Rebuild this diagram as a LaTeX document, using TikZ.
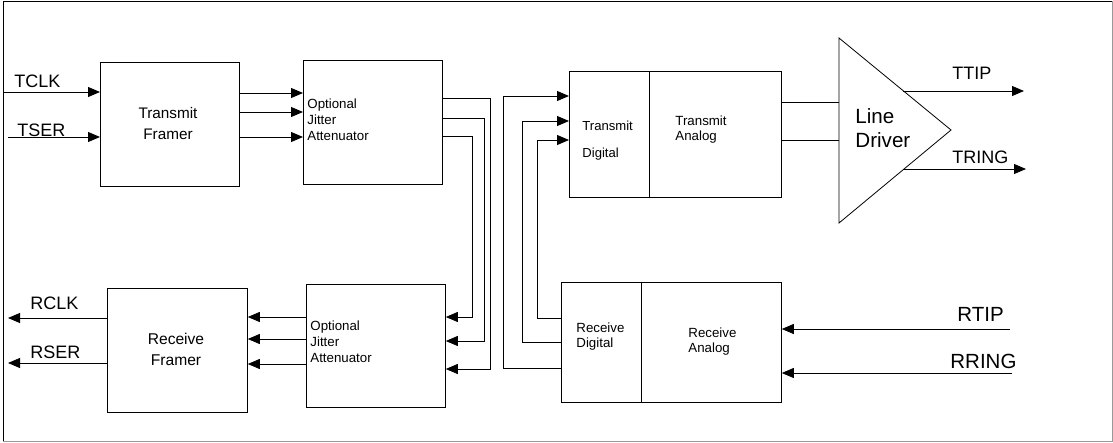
\documentclass[tikz,border=0pt]{standalone}
\usepackage{fontspec}
\setmainfont{Liberation Sans}
\usetikzlibrary{arrows.meta}

\tikzset{
  blk/.style={draw, rectangle, inner sep=0pt, anchor=north west},
  sig/.style={-{Triangle[length=12pt,width=10pt]}},
  pin/.style={inner sep=0pt, anchor=base west, font=\fontsize{18}{18}\selectfont},
  bigpin/.style={pin, font=\fontsize{20.5}{20.5}\selectfont},
  txt/.style={inner sep=0pt, anchor=base west, align=left, font=\fontsize{13.3}{16}\selectfont}
}

\begin{document}
\begin{tikzpicture}[x=1pt, y=-1pt, line width=0.8pt]
    \useasboundingbox (0,0) rectangle (1113,442);
    % Frame
    \draw (3,1) -- (1112,1);
    \draw (3,1) -- (3,441);
    \draw[black!40] (3,441) -- (1112,441) -- (1112,1);
    % Framers (text placed by its last baseline)
    \node[blk, minimum width=139pt, minimum height=124pt] (tfr) at (100,62) {};
    \node[blk, minimum width=140pt, minimum height=124pt] (rfr) at (107,288) {};
    \node[inner sep=0pt, anchor=base, align=center, font=\fontsize{15.3}{20.5}\selectfont] (tfrtxt) at (168,139) {Transmit\\Framer};
    \node[inner sep=0pt, anchor=base, align=center, font=\fontsize{15.6}{21}\selectfont] (rfrtxt) at (176,365) {Receive\\Framer};
    % Jitter attenuators
    \node[blk, minimum width=139pt, minimum height=124pt] (ojat) at (303,60) {};
    \node[blk, minimum width=139pt, minimum height=123pt] (ojar) at (306,284) {};
    \node[txt] (ojattxt) at (307,140) {Optional\\Jitter\\Attenuator};
    \node[txt] (ojartxt) at (310,362) {Optional\\Jitter\\Attenuator};
    % Transmit / receive blocks
    \node[blk, minimum width=80pt, minimum height=126pt] (txd) at (569,71) {};
    \node[blk, minimum width=132pt, minimum height=126pt] (txa) at (649,71) {};
    \node[blk, minimum width=80pt, minimum height=120pt] (rxd) at (561,282) {};
    \node[blk, minimum width=140pt, minimum height=120pt] (rxa) at (641,282) {};
    \node[txt, font=\fontsize{13.1}{27}\selectfont] (txdtxt) at (582,157) {Transmit\\Digital};
    \node[txt, font=\fontsize{13.3}{15}\selectfont] (txatxt) at (675,140) {Transmit\\Analog};
    \node[txt, font=\fontsize{13.3}{15}\selectfont] (rxdtxt) at (576,347) {Receive\\Digital};
    \node[txt, font=\fontsize{13.3}{15}\selectfont] (rxatxt) at (688,352) {Receive\\Analog};
    % Line driver
    \draw (839,38) coordinate (ldtop) -- (951,130) coordinate (ldtip)
        -- (839,223) coordinate (ldbot) -- cycle;
    \node[txt, font=\fontsize{20.6}{24}\selectfont] (ld) at (855,147) {Line\\Driver};
    % Transmit side
    \coordinate (tclk) at (3,92);
    \coordinate (tser) at (8,137);
    \draw[sig] (tclk) -- (tfr.west |- tclk);
    \draw[sig] (tser) -- (tfr.west |- tser);
    \node[pin] (tclklbl) at (14,87) {TCLK};
    \node[pin] (tserlbl) at (17,136) {TSER};
    \foreach \y in {93,112,137}
        \draw[sig] (tfr.east |- 0,\y) -- (ojat.west |- 0,\y);
    % Attenuator loop-back
    \foreach \ya/\xx/\yb in {98/490/369, 118/484/341, 136/472/317}
        \draw[sig] (ojat.east |- 0,\ya) -| (\xx,\yb) -- (ojar.east |- 0,\yb);
    % Receive side
    \foreach \y in {317,339,364}
        \draw[sig] (ojar.west |- 0,\y) -- (rfr.east |- 0,\y);
    \coordinate (rclk) at (8,318);
    \coordinate (rser) at (8,363);
    \draw[sig] (rfr.west |- rclk) -- (rclk);
    \draw[sig] (rfr.west |- rser) -- (rser);
    \node[pin] (rclklbl) at (30,309) {RCLK};
    \node[pin] (rserlbl) at (30,358) {RSER};
    % Digital loop-back
    \foreach \ya/\xx/\yb in {318/537/140, 342/522/121, 368/503/96}
        \draw[sig] (rxd.west |- 0,\ya) -| (\xx,\yb) -- (txd.west |- 0,\yb);
    % Analog to line driver
    \foreach \y in {102,140}
        \draw (txa.east |- 0,\y) -- (ldtop |- 0,\y);
    \coordinate (ttip) at (1024,91);
    \coordinate (tring) at (1026,169);
    \draw[sig] (ldtop |- ttip) ++(64,0) -- (ttip);
    \draw[sig] (ldtop |- tring) ++(65,0) -- (tring);
    \node[pin] (ttiplbl) at (952,79) {TTIP};
    \node[pin] (tringlbl) at (952,163) {TRING};
    % Line inputs
    \coordinate (rtip) at (1010,329);
    \coordinate (rring) at (1012,373);
    \draw[sig] (rtip) -- (rxa.east |- rtip);
    \draw[sig] (rring) -- (rxa.east |- rring);
    \node[bigpin] (rtiplbl) at (957,321) {RTIP};
    \node[bigpin] (rringlbl) at (950,368) {RRING};
\end{tikzpicture}
\end{document}
